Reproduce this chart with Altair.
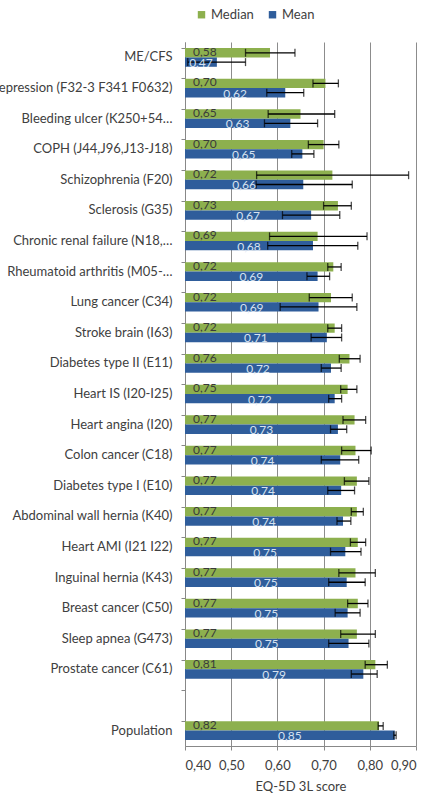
import altair as alt
import pandas as pd

# Diagnosis groups, top to bottom; the blank entry leaves a gap above Population
categories = [
    "ME/CFS",
    "Depression (F32-3 F341 F0632)",
    "Bleeding ulcer (K250+54…",
    "COPH (J44,J96,J13-J18)",
    "Schizophrenia (F20)",
    "Sclerosis (G35)",
    "Chronic renal failure (N18,…",
    "Rheumatoid arthritis (M05-…",
    "Lung cancer (C34)",
    "Stroke brain (I63)",
    "Diabetes type II (E11)",
    "Heart IS (I20-I25)",
    "Heart angina (I20)",
    "Colon cancer (C18)",
    "Diabetes type I (E10)",
    "Abdominal wall hernia (K40)",
    "Heart AMI  (I21 I22)",
    "Inguinal hernia (K43)",
    "Breast cancer (C50)",
    "Sleep apnea (G473)",
    "Prostate cancer (C61)",
    " ",
    "Population",
]

groups = [c for c in categories if c.strip()]

median = [0.584, 0.704, 0.650, 0.700, 0.719, 0.731, 0.687, 0.721, 0.716, 0.724, 0.756,
          0.752, 0.767, 0.769, 0.772, 0.772, 0.774, 0.769, 0.774, 0.772, 0.812, 0.820]
median_lo = [0.531, 0.677, 0.580, 0.667, 0.555, 0.700, 0.583, 0.709, 0.669, 0.709, 0.734,
             0.737, 0.742, 0.739, 0.745, 0.760, 0.758, 0.733, 0.752, 0.737, 0.790, 0.818]
median_hi = [0.638, 0.732, 0.724, 0.733, 0.884, 0.760, 0.794, 0.738, 0.762, 0.739, 0.779,
             0.772, 0.791, 0.803, 0.798, 0.786, 0.791, 0.812, 0.796, 0.812, 0.838, 0.829]

mean = [0.469, 0.617, 0.628, 0.654, 0.656, 0.673, 0.677, 0.687, 0.689, 0.707, 0.716,
        0.724, 0.731, 0.736, 0.738, 0.742, 0.747, 0.750, 0.752, 0.754, 0.786, 0.854]
mean_lo = [0.406, 0.577, 0.572, 0.631, 0.554, 0.611, 0.579, 0.664, 0.606, 0.673, 0.695,
           0.711, 0.715, 0.695, 0.709, 0.729, 0.715, 0.711, 0.725, 0.711, 0.760, 0.852]
mean_hi = [0.531, 0.657, 0.687, 0.679, 0.762, 0.735, 0.774, 0.713, 0.772, 0.739, 0.738,
           0.739, 0.750, 0.776, 0.767, 0.759, 0.781, 0.790, 0.779, 0.798, 0.816, 0.857]

series = ["Median", "Mean"]
colors = ["#8DB04E", "#2F5D9B"]
x_ticks = [0.40, 0.50, 0.60, 0.70, 0.80, 0.90]
X_MIN, X_MAX = 0.40, 0.90

rows = []
for i, g in enumerate(groups):
    rows.append({"Group": g, "Series": "Median", "Value": median[i],
                 "Lo": median_lo[i], "Hi": median_hi[i]})
    rows.append({"Group": g, "Series": "Mean", "Value": mean[i],
                 "Lo": mean_lo[i], "Hi": mean_hi[i]})
df = pd.DataFrame(rows)

FONT = "Lato"
TEXT = "#404040"
FS = 13

y_enc = alt.Y("Group:N", scale=alt.Scale(domain=categories, paddingInner=0.39, paddingOuter=0.2),
              sort=categories,
              axis=alt.Axis(title=None, bandPosition=0, tickSize=4, labelPadding=9,
                            labelLimit=400, labelFontSize=FS, labelColor=TEXT,
                            domainColor="#888888", tickColor="#888888", labelFont=FONT))
yoff_enc = alt.YOffset("Series:N", sort=series, scale=alt.Scale(domain=series, paddingInner=0))
x_scale = alt.Scale(domain=[X_MIN, X_MAX], nice=False, zero=False, clamp=True)

base = alt.Chart(df).transform_calculate(
    label="replace(format(datum.Value, '.2f'), '.', ',')",
    mid=f"({X_MIN} + datum.Value) / 2",
)

bars = base.mark_bar(clip=True).encode(
    x=alt.X("Value:Q", scale=x_scale,
            axis=alt.Axis(values=x_ticks, labelExpr="replace(format(datum.value, '.2f'), '.', ',')",
                          title="EQ-5D 3L score", titleFontWeight="normal", titleFontSize=FS,
                          titleColor=TEXT, titleFont=FONT, labelFont=FONT, labelFontSize=FS,
                          labelColor=TEXT, grid=True, gridColor="#8c8c8c", tickSize=4,
                          tickColor="#888888", domainColor="#888888", labelPadding=9,
                          titlePadding=8)),
    x2=alt.X2(datum=X_MIN),
    y=y_enc,
    yOffset=yoff_enc,
    color=alt.Color("Series:N", scale=alt.Scale(domain=series, range=colors),
                    legend=alt.Legend(title=None, orient="none", direction="horizontal",
                                      legendX=10, legendY=-34, symbolType="square",
                                      symbolSize=55, symbolStrokeWidth=0, labelFontSize=FS,
                                      labelFont=FONT, labelColor=TEXT, columnPadding=12,
                                      labelOffset=3)),
)

err = base.mark_rule(color="black", strokeWidth=1.3).encode(
    x=alt.X("Lo:Q", scale=x_scale), x2="Hi:Q", y=y_enc, yOffset=yoff_enc)

cap_lo = base.mark_tick(color="black", thickness=1.3, size=8).encode(
    x=alt.X("Lo:Q", scale=x_scale), y=y_enc, yOffset=yoff_enc)
cap_hi = base.mark_tick(color="black", thickness=1.3, size=8).encode(
    x=alt.X("Hi:Q", scale=x_scale), y=y_enc, yOffset=yoff_enc)

median_text = base.transform_filter(alt.datum.Series == "Median").mark_text(
    align="left", baseline="middle", dx=8, dy=-1, fontSize=12, font=FONT, color="#3a3a3a"
).encode(x=alt.X(datum=X_MIN, scale=x_scale), y=y_enc, yOffset=yoff_enc, text="label:N")

mean_text = base.transform_filter(alt.datum.Series == "Mean").mark_text(
    align="center", baseline="middle", dy=1, fontSize=12, font=FONT, color="#d6e2f0"
).encode(x=alt.X("mid:Q", scale=x_scale), y=y_enc, yOffset=yoff_enc, text="label:N")

chart = alt.layer(bars, err, cap_lo, cap_hi, median_text, mean_text).properties(
    width=231, height=704,
    autosize=alt.AutoSizeParams(type="none"),
    padding={"left": 185, "top": 42, "right": 26, "bottom": 49},
    background="white",
).configure_view(stroke=None)

chart.save("out.html", embed_options={"renderer": "svg", "actions": False})
